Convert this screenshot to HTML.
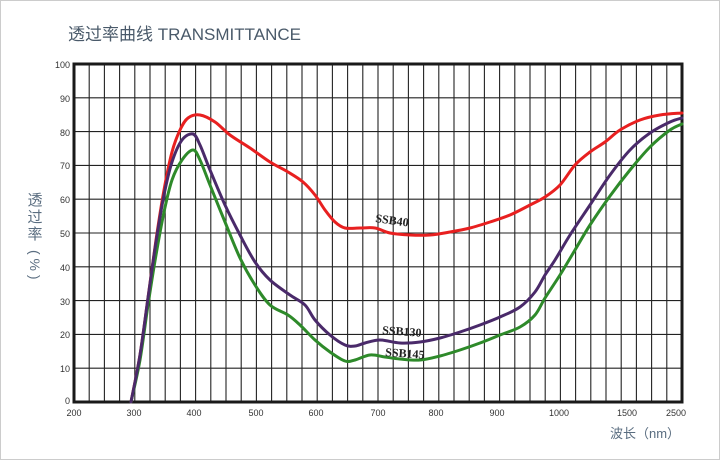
<!DOCTYPE html>
<html><head><meta charset="utf-8"><style>
html,body{margin:0;padding:0;background:#fff;}
svg{display:block;}
</style></head><body>
<svg id="s" width="720" height="460" xmlns="http://www.w3.org/2000/svg">
<rect x="0.5" y="0.5" width="719" height="459" fill="#fff" stroke="#ccc"/>
<text x="68" y="40" font-family="'Liberation Sans','Noto Sans CJK SC',sans-serif" font-size="17" fill="#4a5a6a">透过率曲线 TRANSMITTANCE</text>
<g stroke="#222" stroke-width="1.1">
<line x1="89.2" y1="64" x2="89.2" y2="402"/><line x1="104.4" y1="64" x2="104.4" y2="402"/><line x1="119.6" y1="64" x2="119.6" y2="402"/><line x1="134.8" y1="64" x2="134.8" y2="402"/><line x1="150" y1="64" x2="150" y2="402"/><line x1="165.2" y1="64" x2="165.2" y2="402"/><line x1="180.4" y1="64" x2="180.4" y2="402"/><line x1="195.6" y1="64" x2="195.6" y2="402"/><line x1="210.8" y1="64" x2="210.8" y2="402"/><line x1="226" y1="64" x2="226" y2="402"/><line x1="241.2" y1="64" x2="241.2" y2="402"/><line x1="256.4" y1="64" x2="256.4" y2="402"/><line x1="271.6" y1="64" x2="271.6" y2="402"/><line x1="286.8" y1="64" x2="286.8" y2="402"/><line x1="302" y1="64" x2="302" y2="402"/><line x1="317.2" y1="64" x2="317.2" y2="402"/><line x1="332.4" y1="64" x2="332.4" y2="402"/><line x1="347.6" y1="64" x2="347.6" y2="402"/><line x1="362.8" y1="64" x2="362.8" y2="402"/><line x1="378" y1="64" x2="378" y2="402"/><line x1="393.2" y1="64" x2="393.2" y2="402"/><line x1="408.4" y1="64" x2="408.4" y2="402"/><line x1="423.6" y1="64" x2="423.6" y2="402"/><line x1="438.8" y1="64" x2="438.8" y2="402"/><line x1="454" y1="64" x2="454" y2="402"/><line x1="469.2" y1="64" x2="469.2" y2="402"/><line x1="484.4" y1="64" x2="484.4" y2="402"/><line x1="499.6" y1="64" x2="499.6" y2="402"/><line x1="514.8" y1="64" x2="514.8" y2="402"/><line x1="530" y1="64" x2="530" y2="402"/><line x1="545.2" y1="64" x2="545.2" y2="402"/><line x1="560.4" y1="64" x2="560.4" y2="402"/><line x1="575.6" y1="64" x2="575.6" y2="402"/><line x1="590.8" y1="64" x2="590.8" y2="402"/><line x1="606" y1="64" x2="606" y2="402"/><line x1="621.2" y1="64" x2="621.2" y2="402"/><line x1="636.4" y1="64" x2="636.4" y2="402"/><line x1="651.6" y1="64" x2="651.6" y2="402"/><line x1="666.8" y1="64" x2="666.8" y2="402"/>
<line x1="74" y1="97.8" x2="682" y2="97.8"/><line x1="74" y1="131.6" x2="682" y2="131.6"/><line x1="74" y1="165.4" x2="682" y2="165.4"/><line x1="74" y1="199.2" x2="682" y2="199.2"/><line x1="74" y1="233" x2="682" y2="233"/><line x1="74" y1="266.8" x2="682" y2="266.8"/><line x1="74" y1="300.6" x2="682" y2="300.6"/><line x1="74" y1="334.4" x2="682" y2="334.4"/><line x1="74" y1="368.2" x2="682" y2="368.2"/>
</g>
<rect x="74" y="64" width="608" height="338" fill="none" stroke="#1a1a1a" stroke-width="3"/>
<g font-family="'Liberation Sans',sans-serif" font-size="9" fill="#333" text-anchor="end">
<text x="70" y="68">100</text><text x="70" y="102">90</text><text x="70" y="136">80</text><text x="70" y="169">70</text><text x="70" y="203">60</text><text x="70" y="237">50</text><text x="70" y="271">40</text><text x="70" y="305">30</text><text x="70" y="338">20</text><text x="70" y="372">10</text><text x="70" y="404">0</text>
</g>
<g font-family="'Liberation Sans',sans-serif" font-size="9" fill="#333" text-anchor="middle">
<text x="74" y="416">200</text><text x="134" y="416">300</text><text x="194" y="416">400</text><text x="256" y="416">500</text><text x="316" y="416">600</text><text x="378" y="416">700</text><text x="436" y="416">800</text><text x="497" y="416">900</text><text x="559" y="416">1000</text><text x="627" y="416">1500</text><text x="676" y="416">2500</text>
</g>
<g font-family="'Liberation Sans','Noto Sans CJK SC',sans-serif" font-size="15" fill="#5a6d80" text-anchor="middle">
<text x="35" y="205">透</text><text x="35" y="222">过</text><text x="35" y="239">率</text>
</g>
<text transform="translate(30,250) rotate(90)" font-family="'Liberation Sans',sans-serif" font-size="14" fill="#5a6d80">( % )</text>
<text x="610" y="438" font-family="'Liberation Sans','Noto Sans CJK SC',sans-serif" font-size="13" fill="#5a6d80">波长（nm）</text>
<g fill="none" stroke-width="3" stroke-linejoin="round" stroke-linecap="round">
<path id="r" stroke="#e82020"/>
<path id="g" stroke="#2e8a2a"/>
<path id="p" stroke="#4a2a6a"/>
</g>
<g font-family="'Liberation Serif',serif" font-weight="bold" font-size="12" fill="#222">
<text x="375" y="222" transform="rotate(8 375 222)">SSB40</text>
<text x="382" y="334" transform="rotate(4 382 334)">SSB130</text>
<text x="385" y="356" transform="rotate(4 385 356)">SSB145</text>
</g>
</svg>
<script>
function cr(s){var a=s.trim().split(/\s+/).map(function(q){return q.split(',').map(Number)});
var d='M'+a[0][0]+','+a[0][1];
for(var i=0;i<a.length-1;i++){var p0=a[i-1]||a[i],p1=a[i],p2=a[i+1],p3=a[i+2]||p2;
var c1=[p1[0]+(p2[0]-p0[0])/6,p1[1]+(p2[1]-p0[1])/6],c2=[p2[0]-(p3[0]-p1[0])/6,p2[1]-(p3[1]-p1[1])/6];
d+=' C'+c1.join(',')+' '+c2.join(',')+' '+p2.join(',');}return d;}
document.getElementById('r').setAttribute('d',cr("131,402 140,355 148,298 156,240 164,190 172,152 180,130 188,118 200,115 215,122 230,135 250,148 270,162 288,172 303,182 315,195 325,210 335,222 345,228 360,228 375,228 390,233 410,235 430,235 450,232 470,228 490,222 510,215 530,205 545,197 560,185 575,165 590,152 605,142 620,130 640,120 660,115 682,113"));
document.getElementById('g').setAttribute('d',cr("131,402 140,360 148,305 156,255 164,212 172,180 182,160 193,150 200,160 210,185 225,222 240,258 255,285 270,305 288,315 300,325 315,340 330,352 345,361 355,360 370,355 385,357 400,359 420,360 440,356 460,350 480,343 500,335 520,327 535,315 545,298 560,275 575,250 590,225 610,196 630,170 650,147 670,130 682,124"));
document.getElementById('p').setAttribute('d',cr("131,402 140,355 148,298 156,242 164,195 172,162 182,140 193,134 200,145 210,170 225,205 240,235 255,262 270,280 290,295 305,305 315,320 330,335 345,345 355,346 365,343 380,340 400,343 420,342 440,338 460,332 480,325 500,317 520,307 535,292 545,275 555,260 570,235 590,205 610,175 630,150 650,133 670,122 682,118"));
</script>
</body></html>
